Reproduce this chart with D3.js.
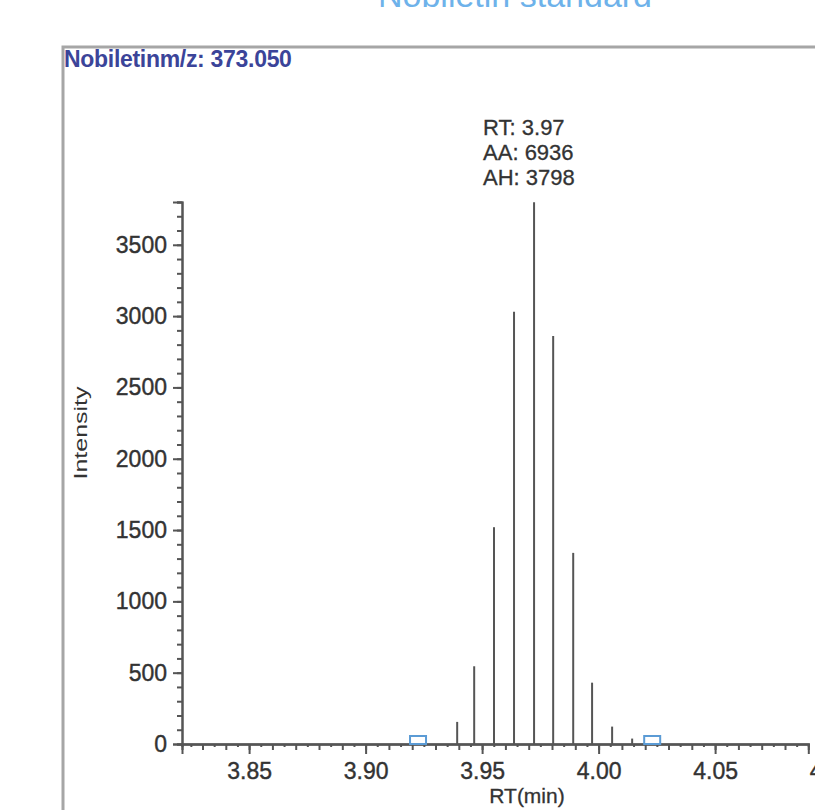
<!DOCTYPE html>
<html>
<head>
<meta charset="utf-8">
<script src="https://cdn.jsdelivr.net/npm/d3@7"></script>
<style>
  body { margin: 0; background: #fff; }
  svg { display: block; font-family: "Liberation Sans", Arial, sans-serif; }
</style>
</head>
<body>
<div id="chart"></div>
<script>
// data
const retentionTimes = [3.9393, 3.9466, 3.9551, 3.9637, 3.9723, 3.9805, 3.9891, 3.9972, 4.0058, 4.0144];
const intensities    = [155, 545, 1520, 3030, 3798, 2860, 1340, 430, 122, 38];
const peakBounds     = [3.9225, 4.0230];
const xTickLabels    = [3.85, 3.90, 3.95, 4.00, 4.05, 4.10];
const yTickLabels    = [0, 500, 1000, 1500, 2000, 2500, 3000, 3500];
const peakInfo       = ['RT: 3.97', 'AA: 6936', 'AH: 3798'];

const W = 815, H = 810;
const svg = d3.select('#chart').append('svg')
  .attr('width', W).attr('height', H);

// cut-off blue heading at the very top
svg.append('text')
  .attr('x', 515).attr('y', 7)
  .attr('text-anchor', 'middle')
  .attr('font-size', 34)
  .attr('fill', '#4a9fe6')
  .attr('opacity', 0.8)
  .text('Nobiletin standard');

// panel frame
svg.append('path')
  .attr('d', `M63,${H} V47 H${W}`)
  .attr('fill', 'none')
  .attr('stroke', '#a6a6a6')
  .attr('stroke-width', 3);

svg.append('text')
  .attr('x', 64).attr('y', 67)
  .attr('font-size', 23)
  .attr('font-weight', 'bold')
  .attr('fill', '#3b4499')
  .attr('letter-spacing', -0.3)
  .text('Nobiletinm/z: 373.050');

// scales
const xMin = 3.8212, xMax = 4.09, pxPerMin = 2330;
const x = d3.scaleLinear()
  .domain([xMin, xMax])
  .range([182, 182 + (xMax - xMin) * pxPerMin]);

const y = d3.scaleLinear()
  .domain([0, 3800])
  .range([744, 202]);

const axisColor = '#555';
const labelFont = 23;

// X axis: micro ticks every 0.005, minor every 0.01, major every 0.05
const xMicro = d3.range(3.825, xMax, 0.01).map(v => +v.toFixed(3));
const xMinor = d3.range(3.83, xMax, 0.01).map(v => +v.toFixed(3));

const gx = svg.append('g').attr('transform', `translate(0,${y(0)})`);
gx.call(d3.axisBottom(x).tickValues(xMicro).tickSize(3).tickFormat(''));
gx.call(g => g.append('g').call(d3.axisBottom(x).tickValues(xMinor).tickSize(6).tickFormat('')));
gx.call(g => g.append('g').call(d3.axisBottom(x).tickValues(xTickLabels).tickSize(10).tickFormat(d3.format('.2f'))));
gx.selectAll('path.domain').attr('stroke', axisColor).attr('stroke-width', 2);
gx.selectAll('line').attr('stroke', axisColor).attr('stroke-width', 2);
gx.selectAll('text')
  .attr('font-size', labelFont).attr('fill', '#333')
  .attr('stroke', '#333').attr('stroke-width', 0.4)
  .attr('font-family', '"Liberation Sans", Arial, sans-serif')
  .attr('dy', '0.95em');

// Y axis: minor every 100, major every 500
const yMinor = d3.range(0, 3801, 100);
const gy = svg.append('g').attr('transform', `translate(182,0)`);
gy.call(d3.axisLeft(y).tickValues(yMinor).tickSize(5).tickFormat(''));
gy.call(g => g.append('g').call(d3.axisLeft(y).tickValues(yTickLabels).tickSize(9).tickPadding(6).tickFormat(d3.format('d'))));
gy.selectAll('path.domain').attr('stroke', axisColor).attr('stroke-width', 2);
gy.selectAll('line').attr('stroke', axisColor).attr('stroke-width', 2);
gy.selectAll('text')
  .attr('font-size', labelFont).attr('fill', '#333')
  .attr('stroke', '#333').attr('stroke-width', 0.4)
  .attr('font-family', '"Liberation Sans", Arial, sans-serif');

// axis titles
svg.append('text')
  .attr('x', 527).attr('y', 803)
  .attr('text-anchor', 'middle')
  .attr('font-size', 21).attr('fill', '#333')
  .attr('stroke', '#333').attr('stroke-width', 0.3)
  .text('RT(min)');

svg.append('text')
  .attr('transform', 'translate(87,433) rotate(-90)')
  .attr('text-anchor', 'middle')
  .attr('font-size', 19).attr('fill', '#333')
  .attr('textLength', 93).attr('lengthAdjust', 'spacingAndGlyphs')
  .text('Intensity');

// sticks
const peaks = retentionTimes.map((t, i) => ({ t, v: intensities[i] }));
svg.selectAll('.stick')
  .data(peaks)
  .enter().append('line')
    .attr('class', 'stick')
    .attr('x1', d => x(d.t)).attr('x2', d => x(d.t))
    .attr('y1', y(0)).attr('y2', d => y(d.v))
    .attr('stroke', '#555')
    .attr('stroke-width', 2);

// integration bound markers
svg.selectAll('.bound')
  .data(peakBounds)
  .enter().append('rect')
    .attr('class', 'bound')
    .attr('x', d => x(d) - 8).attr('y', y(0) - 8)
    .attr('width', 16).attr('height', 8)
    .attr('fill', 'none')
    .attr('stroke', '#5b9bd5')
    .attr('stroke-width', 2);

// apex annotation
const apex = peaks[d3.maxIndex(peaks, d => d.v)];
svg.append('g')
  .selectAll('text')
  .data(peakInfo)
  .enter().append('text')
    .attr('x', x(apex.t) - 51)
    .attr('y', (d, i) => y(apex.v) - 67 + i * 25)
    .attr('font-size', 22).attr('fill', '#333')
    .attr('stroke', '#333').attr('stroke-width', 0.3)
    .text(d => d);
</script>
</body>
</html>
